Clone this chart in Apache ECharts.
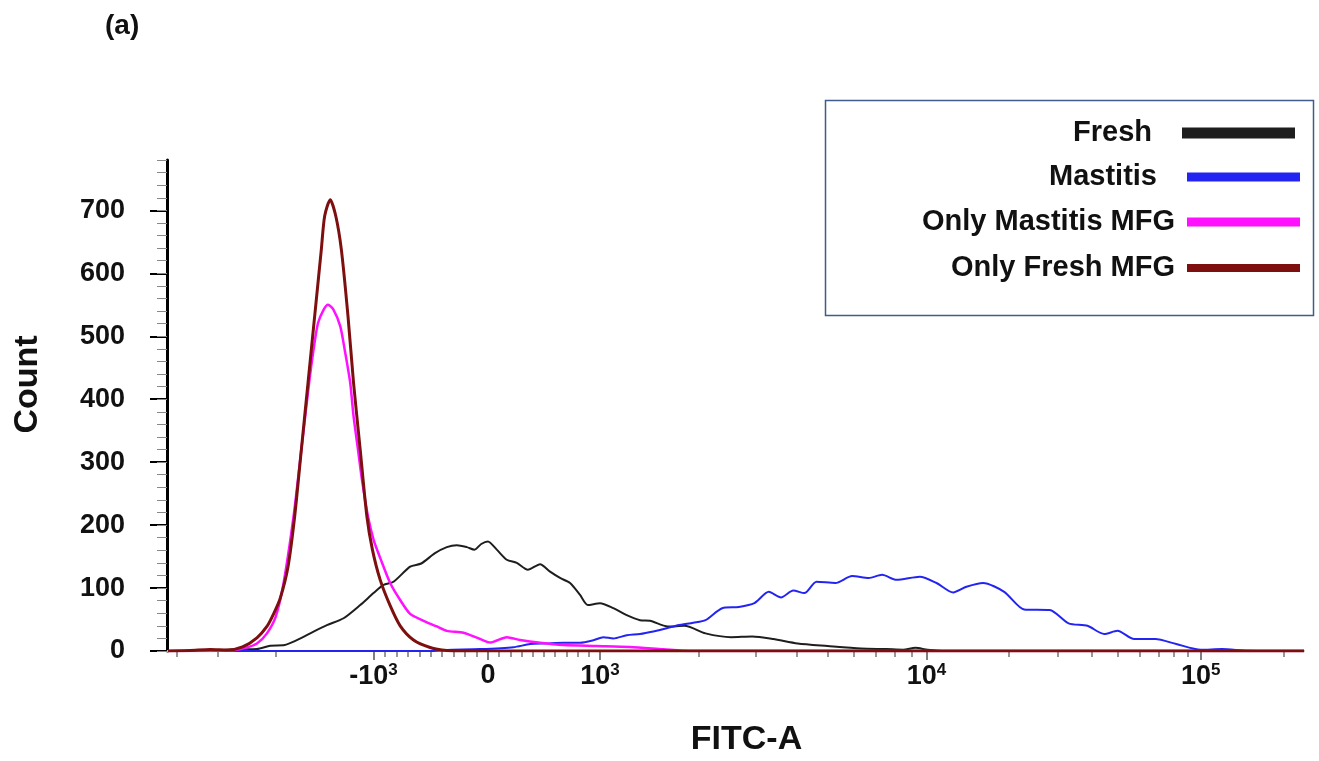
<!DOCTYPE html>
<html><head><meta charset="utf-8">
<script src="https://cdn.jsdelivr.net/npm/echarts@6/dist/echarts.min.js"></script>
<style>html,body{margin:0;padding:0;background:#fff}#c{width:1319px;height:761px}</style>
</head><body><div id="c"></div>
<script>
// ---- data (x = biexponential display channel 0..1024, y = count) ----
const SERIES_NAMES = ['Fresh', 'Mastitis', 'Only Mastitis MFG', 'Only Fresh MFG'];
const SERIES_COLORS = ['#1e1e1e', '#2424f2', '#ff10ff', '#7d0f0f'];

const fresh = [[1,0],[30,0],[63,2.7],[81,3.2],[93,8.4],[106,9.5],[114,14.8],[129,28],[144,41],[159,52],[174,73],[186,92],[195,105],[204,110],[219,134],[229,139],[241,155],[252,165],[261,168],[270,165],[277,161],[283,170],[289,174],[297,161],[306,145],[315,140],[325,129],[336,138],[345,126],[354,116],[363,108],[372,89],[379,73],[390,76],[402,68],[414,57],[426,49],[435,48],[451,39],[466,40],[485,28],[508,22],[527,23],[546,19],[568,12],[595,8],[625,4],[648,3],[663,2],[674,5],[685,2],[701,0],[1024,0]];

const mastitis = [[1,0],[237,0],[252,1.6],[282,3],[312,6],[327,11],[342,12],[357,13],[372,13],[384,17],[393,22],[402,20],[414,25],[426,27],[438,31],[450,36],[460,41],[474,45],[485,49],[500,68],[515,70],[529,76],[542,94],[553,85],[564,96],[574,92],[585,110],[602,108],[617,119],[632,116],[644,121],[657,113],[678,118],[693,108],[708,93],[720,102],[735,108],[754,94],[772,66],[795,65],[812,44],[829,40],[844,27],[856,32],[871,19],[890,19],[909,11],[931,2],[950,3],[973,0.5],[1024,0]];

const onlyMastitisMFG = [[1,0],[57,0.8],[70,4.8],[81,12],[90,28],[98,55],[105,108],[114,214],[121,320],[128,426],[132,479],[136,521],[141,542],[145,550],[150,542],[156,516],[160,479],[165,426],[168,373],[172,320],[176,267],[181,214],[186,177],[192,148],[201,108],[210,81],[219,59],[231,48],[243,39],[252,32],[267,29],[282,19],[291,13.5],[306,22],[318,17.5],[336,13],[357,9.5],[387,8],[417,6.4],[447,2.7],[471,0],[1024,0]];

const onlyFreshMFG = [[1,0],[21,0.8],[39,2.4],[55,1.6],[68,6.4],[81,21],[90,39],[96,59],[102,84],[109,134],[115,214],[121,320],[127,426],[133,532],[139,638],[142,691],[147,717],[152,691],[157,638],[163,532],[168,426],[174,320],[180,214],[185,161],[192,113],[201,72],[210,40],[222,17.5],[237,5.6],[252,0.8],[268,0],[1024,0]];

// axis ticks
const TICK_VALUES = [-1000, 0, 1000, 10000, 100000];
const TICK_CHANNELS = [186, 289, 390, 684, 931];
const TICK_LABELS = ['-10{s|3}', '0', '10{s|3}', '10{s|4}', '10{s|5}'];
const MINOR_VALUES = [-4000,-3000,-2000,-900,-800,-700,-600,-500,-400,-300,-200,-100,100,200,300,400,500,600,700,800,900,2000,3000,4000,5000,6000,7000,8000,9000,20000,30000,40000,50000,60000,70000,80000,90000,200000];
const Y_TICKS = [0, 100, 200, 300, 400, 500, 600, 700];

function toChannel(v) {
  const [nm, z, pm, p4, p5] = TICK_CHANNELS;
  if (Math.abs(v) <= 1000) return v < 0 ? z + (z - nm) * v / 1000 : z + (pm - z) * v / 1000;
  if (v > 10000) return p4 + (p5 - p4) * Math.log10(v / 10000);
  if (v > 1000) return pm + (p4 - pm) * Math.log10(v / 1000);
  return nm - (p4 - pm) * Math.log10(-v / 1000);
}
const minorChannels = MINOR_VALUES.map(toChannel);

const FONT = "'Liberation Sans', Arial, Helvetica, sans-serif";
const chart = echarts.init(document.getElementById('c'), null, {renderer: 'canvas'});

const seriesData = [fresh, mastitis, onlyMastitisMFG, onlyFreshMFG];
const widths = [2, 2, 2.5, 3];

const legendTops = [116, 160, 205, 251];
const legendRights = [24, 19, 19, 19];
const legendItemH = [11, 9, 9, 8];
const legendGapPad = [25, 25, 7, 7];

const option = {
  backgroundColor: '#fff',
  animation: false,
  title: {text: '(a)', left: 100, top: 7, textStyle: {fontFamily: FONT, fontSize: 28, fontWeight: 'bold', color: '#111'}},
  grid: {left: 167, right: 15, top: 160, bottom: 110, containLabel: false, outerBoundsMode: 'none'},
  legend: SERIES_NAMES.map((n, i) => ({
    data: [n], orient: 'vertical', right: legendRights[i], top: legendTops[i], padding: 0,
    align: 'right', icon: 'rect', itemWidth: 113, itemHeight: legendItemH[i],
    selectedMode: false,
    textStyle: {fontFamily: FONT, fontSize: 29, fontWeight: 'bold', color: '#111', lineHeight: 34, padding: [0, legendGapPad[i], 0, 0]}
  })),
  graphic: [{
    type: 'rect', left: 823, top: 98, z: 0,
    shape: {width: 488, height: 215},
    style: {fill: 'none', stroke: '#3f5d8c', lineWidth: 1.5}
  }],
  xAxis: [{
    type: 'value', min: 0, max: 1024,
    name: 'FITC-A', nameLocation: 'middle', nameGap: 72,
    nameTextStyle: {fontFamily: FONT, fontSize: 34, fontWeight: 'bold', color: '#111', padding: [0, 0, 0, 22]},
    axisLine: {show: true, onZero: false, lineStyle: {color: '#b8b8c0', width: 2}},
    axisTick: {show: true, customValues: TICK_CHANNELS, length: 9, lineStyle: {color: '#555', width: 1.5}},
    axisLabel: {
      customValues: TICK_CHANNELS, margin: 11,
      formatter: (v) => { const i = TICK_CHANNELS.findIndex(c => Math.abs(c - v) < 0.01); return i >= 0 ? TICK_LABELS[i] : ''; },
      fontFamily: FONT, fontSize: 27, fontWeight: 'bold', color: '#111',
      rich: {s: {fontFamily: FONT, fontSize: 17, fontWeight: 'bold', color: '#111', padding: [0, 0, 12, 0]}}
    },
    splitLine: {show: false}
  }, {
    type: 'value', min: 0, max: 1024, position: 'bottom',
    axisLine: {show: false},
    axisTick: {show: true, customValues: minorChannels, length: 6, lineStyle: {color: '#777', width: 1.5}},
    axisLabel: {show: false},
    splitLine: {show: false}
  }],
  yAxis: [{
    type: 'value', min: 0, max: 780, interval: 100,
    name: 'Count', nameLocation: 'middle', nameGap: 122, nameRotate: 90,
    nameTextStyle: {fontFamily: FONT, fontSize: 34, fontWeight: 'bold', color: '#111', padding: [0, 0, 0, 42]},
    axisLine: {show: true, onZero: false, lineStyle: {color: '#000', width: 3}},
    axisTick: {show: true, customValues: Y_TICKS, length: 17, lineStyle: {color: '#000', width: 2}},
    axisLabel: {customValues: Y_TICKS, margin: 42, fontFamily: FONT, fontSize: 27, fontWeight: 'bold', color: '#111'},
    splitLine: {show: false}
  }, {
    type: 'value', min: 0, max: 780, interval: 20, position: 'left',
    axisLine: {show: false},
    axisTick: {show: true, length: 10, lineStyle: {color: '#888', width: 1}},
    axisLabel: {show: false},
    splitLine: {show: false}
  }],
  series: SERIES_NAMES.map((n, i) => ({
    name: n, type: 'line', data: seriesData[i], xAxisIndex: 0, yAxisIndex: 0,
    showSymbol: false, smooth: 0.25, color: SERIES_COLORS[i],
    lineStyle: {width: widths[i], color: SERIES_COLORS[i]}, z: 2 + i
  }))
};
chart.setOption(option);
</script></body></html>
